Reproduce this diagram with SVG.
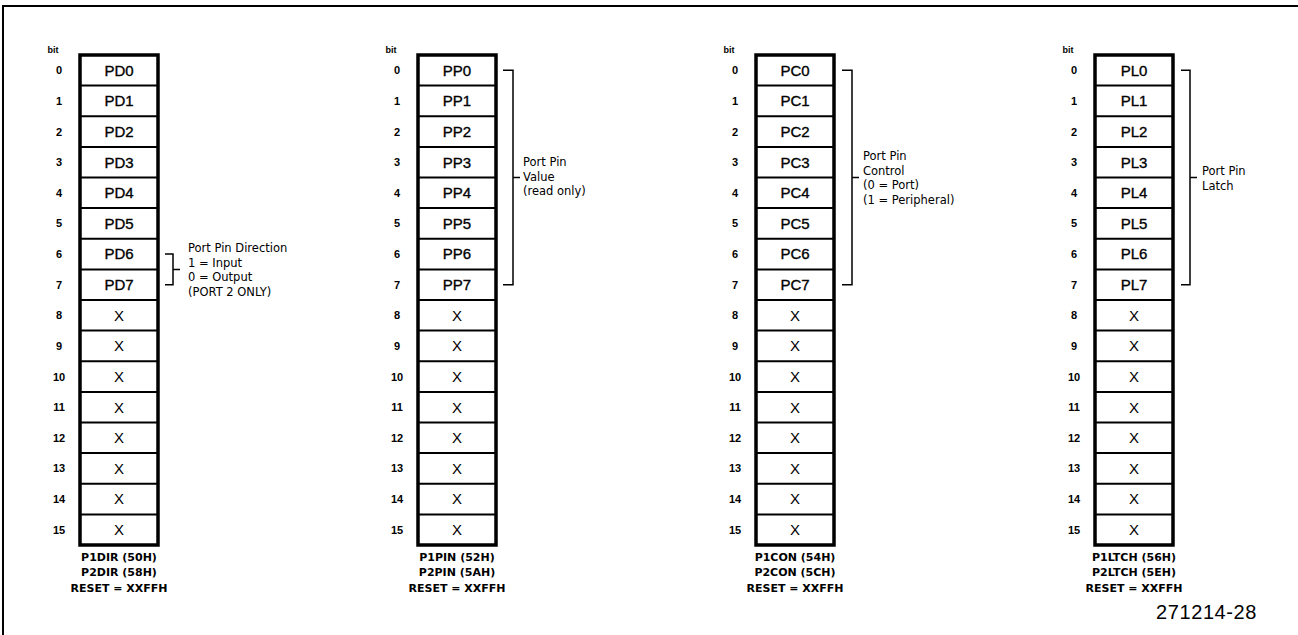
<svg xmlns="http://www.w3.org/2000/svg" xmlns:xlink="http://www.w3.org/1999/xlink" width="1298" height="635" viewBox="0 0 1298 635">
<style>
.frame{fill:none;stroke:#000;stroke-width:2}
.box{fill:#fff;stroke:#000;stroke-width:3.5}
.div{fill:none;stroke:#000;stroke-width:2}
.br{fill:none;stroke:#000;stroke-width:1.5}
.bit{font-family:"Liberation Sans",Arial,sans-serif;font-weight:bold;font-size:9px;text-anchor:middle;fill:#000}
.num{font-family:"Liberation Sans",Arial,sans-serif;font-weight:bold;font-size:11px;text-anchor:middle;fill:#000}
.cell{font-family:"Liberation Sans",Arial,sans-serif;font-size:15px;text-anchor:middle;fill:#000;stroke:#000;stroke-width:0.35}
.x{font-family:"Liberation Sans",Arial,sans-serif;font-size:15px;text-anchor:middle;fill:#000}
.lab{font-family:"DejaVu Sans",sans-serif;font-weight:bold;font-size:11px;text-anchor:middle;fill:#000}
.ann{font-family:"DejaVu Sans",sans-serif;font-size:11.5px;fill:#000}
.fig{font-family:"Liberation Sans",Arial,sans-serif;font-size:20px;letter-spacing:0.6px;fill:#000}
</style>
<defs>
<path id="div" class="div" d="M0 85.6h78M0 116.3h78M0 146.9h78M0 177.5h78M0 208.1h78M0 238.8h78M0 269.4h78M0 300h78M0 330.6h78M0 361.3h78M0 391.9h78M0 422.5h78M0 453.1h78M0 483.8h78M0 514.4h78"/>
</defs>
<path class="frame" d="M3 640V6H1300"/>

<g id="reg-dir">
<rect class="box" x="80" y="55" width="78" height="490"/>
<use xlink:href="#div" x="80"/>
<text class="bit" x="53" y="53">bit</text>
<text class="num" x="59" y="74.3">0</text><text class="num" x="59" y="104.9">1</text><text class="num" x="59" y="135.6">2</text><text class="num" x="59" y="166.2">3</text><text class="num" x="59" y="196.8">4</text><text class="num" x="59" y="227.4">5</text><text class="num" x="59" y="258.1">6</text><text class="num" x="59" y="288.7">7</text><text class="num" x="59" y="319.3">8</text><text class="num" x="59" y="349.9">9</text><text class="num" x="59" y="380.6">10</text><text class="num" x="59" y="411.2">11</text><text class="num" x="59" y="441.8">12</text><text class="num" x="59" y="472.4">13</text><text class="num" x="59" y="503.1">14</text><text class="num" x="59" y="533.7">15</text>
<text class="cell" x="119" y="75.6">PD0</text><text class="cell" x="119" y="106.2">PD1</text><text class="cell" x="119" y="136.9">PD2</text><text class="cell" x="119" y="167.5">PD3</text><text class="cell" x="119" y="198.1">PD4</text><text class="cell" x="119" y="228.7">PD5</text><text class="cell" x="119" y="259.4">PD6</text><text class="cell" x="119" y="290">PD7</text>
<text class="x" x="119" y="320.6">X</text><text class="x" x="119" y="351.2">X</text><text class="x" x="119" y="381.9">X</text><text class="x" x="119" y="412.5">X</text><text class="x" x="119" y="443.1">X</text><text class="x" x="119" y="473.7">X</text><text class="x" x="119" y="504.4">X</text><text class="x" x="119" y="535">X</text>
<text class="lab" x="119" y="561">P1DIR (50H)</text><text class="lab" x="119" y="576">P2DIR (58H)</text><text class="lab" x="119" y="592">RESET = XXFFH</text>
</g>

<g id="reg-pin">
<rect class="box" x="418" y="55" width="78" height="490"/>
<use xlink:href="#div" x="418"/>
<text class="bit" x="391" y="53">bit</text>
<text class="num" x="397" y="74.3">0</text><text class="num" x="397" y="104.9">1</text><text class="num" x="397" y="135.6">2</text><text class="num" x="397" y="166.2">3</text><text class="num" x="397" y="196.8">4</text><text class="num" x="397" y="227.4">5</text><text class="num" x="397" y="258.1">6</text><text class="num" x="397" y="288.7">7</text><text class="num" x="397" y="319.3">8</text><text class="num" x="397" y="349.9">9</text><text class="num" x="397" y="380.6">10</text><text class="num" x="397" y="411.2">11</text><text class="num" x="397" y="441.8">12</text><text class="num" x="397" y="472.4">13</text><text class="num" x="397" y="503.1">14</text><text class="num" x="397" y="533.7">15</text>
<text class="cell" x="457" y="75.6">PP0</text><text class="cell" x="457" y="106.2">PP1</text><text class="cell" x="457" y="136.9">PP2</text><text class="cell" x="457" y="167.5">PP3</text><text class="cell" x="457" y="198.1">PP4</text><text class="cell" x="457" y="228.7">PP5</text><text class="cell" x="457" y="259.4">PP6</text><text class="cell" x="457" y="290">PP7</text>
<text class="x" x="457" y="320.6">X</text><text class="x" x="457" y="351.2">X</text><text class="x" x="457" y="381.9">X</text><text class="x" x="457" y="412.5">X</text><text class="x" x="457" y="443.1">X</text><text class="x" x="457" y="473.7">X</text><text class="x" x="457" y="504.4">X</text><text class="x" x="457" y="535">X</text>
<text class="lab" x="457" y="561">P1PIN (52H)</text><text class="lab" x="457" y="576">P2PIN (5AH)</text><text class="lab" x="457" y="592">RESET = XXFFH</text>
</g>

<g id="reg-con">
<rect class="box" x="756" y="55" width="78" height="490"/>
<use xlink:href="#div" x="756"/>
<text class="bit" x="729" y="53">bit</text>
<text class="num" x="735" y="74.3">0</text><text class="num" x="735" y="104.9">1</text><text class="num" x="735" y="135.6">2</text><text class="num" x="735" y="166.2">3</text><text class="num" x="735" y="196.8">4</text><text class="num" x="735" y="227.4">5</text><text class="num" x="735" y="258.1">6</text><text class="num" x="735" y="288.7">7</text><text class="num" x="735" y="319.3">8</text><text class="num" x="735" y="349.9">9</text><text class="num" x="735" y="380.6">10</text><text class="num" x="735" y="411.2">11</text><text class="num" x="735" y="441.8">12</text><text class="num" x="735" y="472.4">13</text><text class="num" x="735" y="503.1">14</text><text class="num" x="735" y="533.7">15</text>
<text class="cell" x="795" y="75.6">PC0</text><text class="cell" x="795" y="106.2">PC1</text><text class="cell" x="795" y="136.9">PC2</text><text class="cell" x="795" y="167.5">PC3</text><text class="cell" x="795" y="198.1">PC4</text><text class="cell" x="795" y="228.7">PC5</text><text class="cell" x="795" y="259.4">PC6</text><text class="cell" x="795" y="290">PC7</text>
<text class="x" x="795" y="320.6">X</text><text class="x" x="795" y="351.2">X</text><text class="x" x="795" y="381.9">X</text><text class="x" x="795" y="412.5">X</text><text class="x" x="795" y="443.1">X</text><text class="x" x="795" y="473.7">X</text><text class="x" x="795" y="504.4">X</text><text class="x" x="795" y="535">X</text>
<text class="lab" x="795" y="561">P1CON (54H)</text><text class="lab" x="795" y="576">P2CON (5CH)</text><text class="lab" x="795" y="592">RESET = XXFFH</text>
</g>

<g id="reg-ltch">
<rect class="box" x="1095" y="55" width="78" height="490"/>
<use xlink:href="#div" x="1095"/>
<text class="bit" x="1068" y="53">bit</text>
<text class="num" x="1074" y="74.3">0</text><text class="num" x="1074" y="104.9">1</text><text class="num" x="1074" y="135.6">2</text><text class="num" x="1074" y="166.2">3</text><text class="num" x="1074" y="196.8">4</text><text class="num" x="1074" y="227.4">5</text><text class="num" x="1074" y="258.1">6</text><text class="num" x="1074" y="288.7">7</text><text class="num" x="1074" y="319.3">8</text><text class="num" x="1074" y="349.9">9</text><text class="num" x="1074" y="380.6">10</text><text class="num" x="1074" y="411.2">11</text><text class="num" x="1074" y="441.8">12</text><text class="num" x="1074" y="472.4">13</text><text class="num" x="1074" y="503.1">14</text><text class="num" x="1074" y="533.7">15</text>
<text class="cell" x="1134" y="75.6">PL0</text><text class="cell" x="1134" y="106.2">PL1</text><text class="cell" x="1134" y="136.9">PL2</text><text class="cell" x="1134" y="167.5">PL3</text><text class="cell" x="1134" y="198.1">PL4</text><text class="cell" x="1134" y="228.7">PL5</text><text class="cell" x="1134" y="259.4">PL6</text><text class="cell" x="1134" y="290">PL7</text>
<text class="x" x="1134" y="320.6">X</text><text class="x" x="1134" y="351.2">X</text><text class="x" x="1134" y="381.9">X</text><text class="x" x="1134" y="412.5">X</text><text class="x" x="1134" y="443.1">X</text><text class="x" x="1134" y="473.7">X</text><text class="x" x="1134" y="504.4">X</text><text class="x" x="1134" y="535">X</text>
<text class="lab" x="1134" y="561">P1LTCH (56H)</text><text class="lab" x="1134" y="576">P2LTCH (5EH)</text><text class="lab" x="1134" y="592">RESET = XXFFH</text>
</g>

<g id="connectors">
<path class="br" d="M165 254.1H173V284.7H165M173 269.4H180"/>
<path class="br" d="M503 70.3H513V284.7H503M513 177.5H520"/>
<path class="br" d="M842 70.3H852V284.7H842M852 177.5H859"/>
<path class="br" d="M1181 70.3H1190V284.7H1181M1190 177.5H1197"/>
</g>

<g id="note-dir">
<text class="ann" x="188" y="252">Port Pin Direction</text>
<text class="ann" x="188" y="266.5">1 = Input</text>
<text class="ann" x="188" y="281">0 = Output</text>
<text class="ann" x="188" y="295.5">(PORT 2 ONLY)</text>
</g>
<g id="note-pin">
<text class="ann" x="523" y="166">Port Pin</text>
<text class="ann" x="523" y="180.5">Value</text>
<text class="ann" x="523" y="195">(read only)</text>
</g>
<g id="note-con">
<text class="ann" x="863" y="160">Port Pin</text>
<text class="ann" x="863" y="174.5">Control</text>
<text class="ann" x="863" y="189">(0 = Port)</text>
<text class="ann" x="863" y="203.5">(1 = Peripheral)</text>
</g>
<g id="note-ltch">
<text class="ann" x="1202" y="175">Port Pin</text>
<text class="ann" x="1202" y="189.5">Latch</text>
</g>

<text id="fig-num" class="fig" x="1156" y="619">271214-28</text>
</svg>
